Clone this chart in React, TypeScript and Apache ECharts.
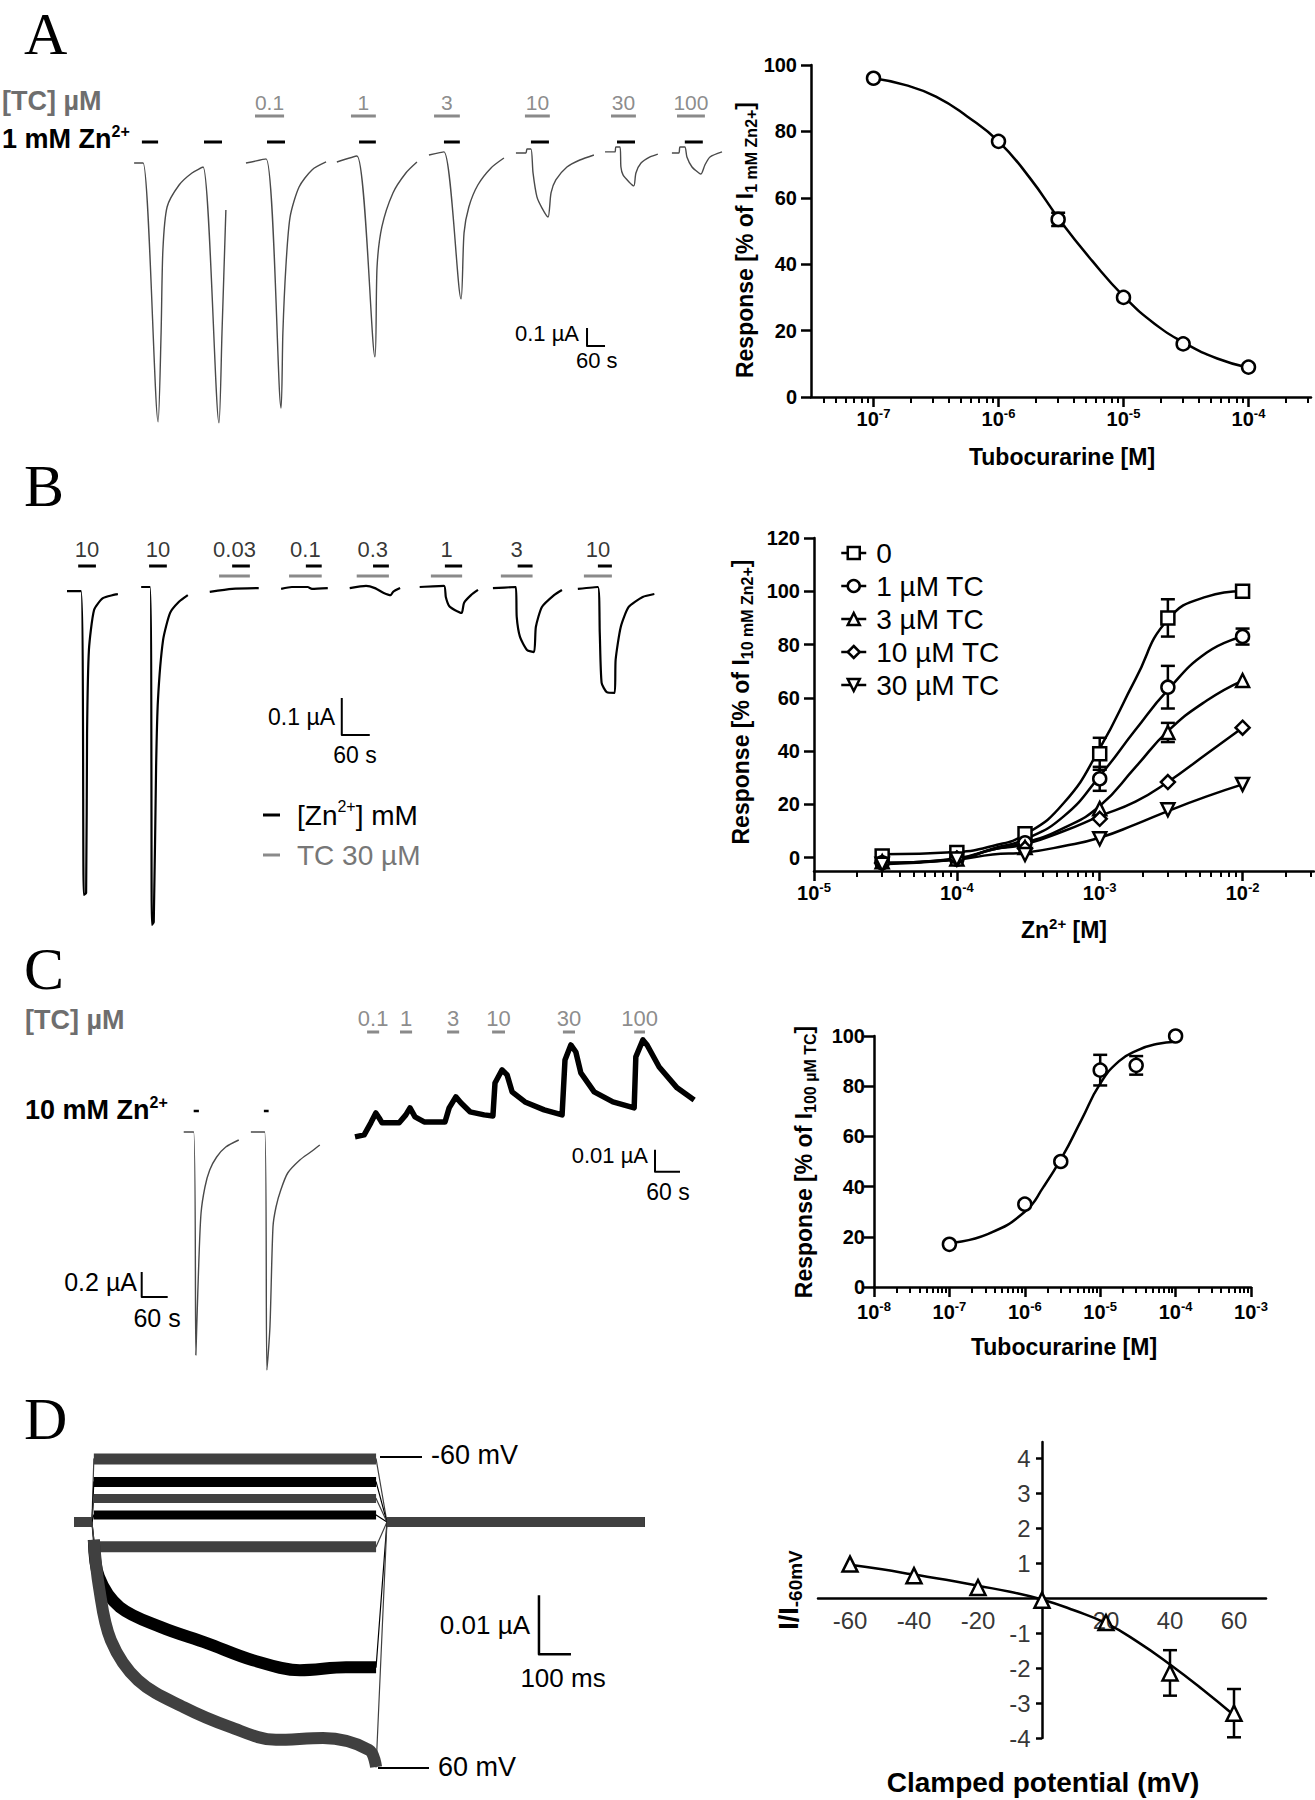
import React, { useEffect, useRef } from "react";
import * as echarts from "echarts";

const SANS = '"Liberation Sans", Arial, Helvetica, sans-serif';
const SERIF = '"Liberation Serif", "Times New Roman", Times, serif';
const GRAY_TXT = "#6e6e6e";
const GRAY_BAR = "#8a8a8a";

/* ===== Panel A, left: current trace (time s, current nA) ===== */
const A_TRACE_T = [47, 77, 127, 137, 143, 157, 197, 240, 277, 330, 340, 353, null,
  420, 487, 537, 543, 553, 567, 597, 640, 687, null,
  723, 790, 850, 857, 873, 910, 953, 990, null,
  1030, 1080, 1137, 1147, 1163, 1193, 1237, 1280, null,
  1320, 1353, 1357, 1370, 1377, 1390, 1407, 1427, 1437, 1453, 1490, 1533, 1580, null,
  1617, 1650, 1653, 1667, 1670, 1677, 1697, 1713, 1720, 1737, 1767, 1793, null,
  1840, 1863, 1867, 1883, 1890, 1907, 1930, 1937, 1950, 1967, 2007];
const A_TRACE_I = [-6, -6, -1444, -950, -489, -250, -128, -61, -28, -1450, -950, -267, null,
  -6, 17, -1367, -950, -583, -306, -139, -44, 0, null,
  0, 33, -1083, -583, -361, -172, -61, 0, null,
  39, 56, -761, -394, -250, -128, -33, 22, null,
  50, 50, 72, 72, -61, -194, -256, -306, -172, -100, -28, 11, 39, null,
  56, 56, 83, 83, -28, -72, -111, -133, -61, -6, 28, 44, null,
  50, 50, 83, 83, 28, -28, -61, -67, -17, 28, 56];
const A_ZN_ON = [73, 280, 490, 797, 1080, 1370, 1657, 1883];
const A_ZN_OFF = [127, 340, 550, 853, 1133, 1430, 1717, 1943];
const A_TC_LABELS = ["0.1", "1", "3", "10", "30", "100"];
const A_TC_ON = [450, 770, 1047, 1350, 1637, 1857];
const A_TC_OFF = [547, 853, 1133, 1433, 1720, 1950];

/* ===== Panel A, right: inhibition curve ===== */
const A_CONC = [1e-7, 1e-6, 3e-6, 1e-5, 3e-5, 1e-4];
const A_RESP = [96, 77, 53.5, 30, 16, 9];
const A_SEM = [0, 0, 2, 0, 0, 0];
const A_FIT_X = [1e-7, 1.78e-7, 3.16e-7, 5.62e-7, 1e-6, 1.78e-6, 3.16e-6, 5.62e-6, 1e-5, 1.78e-5, 3.16e-5, 5.62e-5, 1e-4];
const A_FIT_Y = [96, 94, 90.5, 84.5, 77, 66, 52.8, 41, 30.4, 22, 16, 11.6, 8.8];

/* ===== Panel B, left: current trace (time s, current nA) ===== */
const B_TRACE_T = [15, 45, 51, 56, 58, 62, 73, 92, 124, null,
  174, 193, 197, 201, 206, 210, 221, 236, 255, 274, null,
  321, 369, 426, null,
  474, 497, 531, 540, 574, null,
  621, 656, 675, 694, 709, 714, 729, null,
  771, 823, 827, 834, 846, 861, 866, 881, 896, null,
  928, 977, 979, 986, 1001, 1016, 1020, 1033, 1059, 1076, null,
  1110, 1153, 1157, 1161, 1172, 1189, 1191, 1202, 1219, 1249, 1274];
const B_TRACE_I = [-3, -3, -824, -819, -387, -162, -54, -22, -11, null,
  8, 8, -905, -897, -478, -297, -135, -62, -32, -14, null,
  -5, 3, 5, null,
  3, 8, 8, 3, 5, null,
  5, 11, 5, -8, -14, -5, 5, null,
  8, 11, -19, -43, -54, -62, -35, -14, 0, null,
  5, 8, -73, -127, -162, -168, -100, -46, -14, 0, null,
  3, 8, -116, -251, -276, -278, -189, -100, -46, -19, -11];
const B_ZN_LABELS = ["10", "10", "0.03", "0.1", "0.3", "1", "3", "10"];
const B_ZN_ON = [39, 191, 369, 527, 671, 825, 981, 1153];
const B_ZN_OFF = [77, 229, 407, 561, 705, 862, 1013, 1183];
const B_TC_ON = [341, 491, 636, 795, 945, 1123];
const B_TC_OFF = [407, 561, 705, 862, 1013, 1183];

/* ===== Panel B, right: Zn2+ concentration-response ===== */
const B_ZN = [3e-5, 1e-4, 3e-4, 1e-3, 3e-3, 1e-2];
const B_NAMES = ["0", "1 µM TC", "3 µM TC", "10 µM TC", "30 µM TC"];
const B_Y_0 = [0.6, 1.9, 9, 39, 90, 100];
const B_E_0 = [0, 0, 0, 6, 7, 0];
const B_Y_1 = [-1.9, -0.6, 5.6, 29.6, 64, 83];
const B_E_1 = [0, 0, 0, 4.5, 8, 3];
const B_Y_3 = [-1.5, -0.5, 3.8, 18.4, 47, 66.5];
const B_E_3 = [0, 0, 0, 0, 3.6, 0];
const B_Y_10 = [-2, -0.3, 3.4, 14.6, 28.4, 48.8];
const B_E_10 = [0, 0, 0, 0, 0, 0];
const B_Y_30 = [-2.5, -0.5, 1.2, 7.1, 18, 27.5];
const B_E_30 = [0, 0, 0, 0, 0, 0];
const B_FIT_X = [3e-5, 1e-4, 1.78e-4, 3e-4, 5.62e-4, 1e-3, 1.78e-3, 3e-3, 5.62e-3, 1e-2];
const B_FIT_0 = [1.25, 2.1, 4.4, 8.7, 20.6, 41, 67, 89.4, 98, 100];
const B_FIT_1 = [-2, -0.6, 3.4, 6.9, 15.6, 30.6, 48, 63, 77, 83];
const B_FIT_3 = [-2, -0.5, 3.1, 5.6, 11.2, 19.4, 34, 47.5, 59, 66.5];
const B_FIT_10 = [-2, -0.3, 3.1, 5, 10, 15.6, 21, 28.4, 39, 48.8];
const B_FIT_30 = [-2.5, -0.8, 1.2, 1.9, 4.4, 7.5, 12.5, 17.5, 23, 27.5];

/* ===== Panel C, left: Zn2+ currents (time s, current nA) ===== */
const C1_TRACE_T = [32, 55, 60, 62, 67, 72, 81, 92, 108, 129, 159, null,
  187, 219, 224, 231, 238, 245, 256, 272, 300, 325, 346];
const C1_TRACE_I = [0, 0, -1784, -1560, -1024, -648, -440, -304, -200, -120, -64, null,
  0, 0, -1904, -1560, -760, -600, -464, -328, -224, -160, -104];
const C1_ZN_ON = [55, 217];
const C1_ZN_OFF = [67, 228];
/* TC-evoked currents (time s, current nA) */
const C2_TRACE_T = [36, 58, 74, 86, 94, 101, 142, 158, 168, 180, 202, 252, 262, 278, 290, 312,
  346, 367, 372, 389, 401, 413, 444, 490, 533, 540, 554, 566, 578, 610, 655, 706, 710, 727,
  737, 766, 809, 850];
const C2_TRACE_I = [0, 0.9, 6.4, 10.9, 8.6, 6.4, 6.4, 10, 13.2, 9.1, 6.8, 6.8, 13.2, 18.2, 15.5, 11.4,
  10, 9.5, 24.5, 30.5, 28.2, 20.5, 15.9, 12.3, 10, 35, 41.8, 38.6, 29.1, 20.5, 15.9, 13.2, 36.4, 44.1,
  41.8, 31.8, 22.3, 16.8];
const C2_TC_LABELS = ["0.1", "1", "3", "10", "30", "100"];
const C2_TC_ON = [65, 144, 257, 365, 535, 706];
const C2_TC_OFF = [94, 173, 286, 396, 564, 732];

/* ===== Panel C, right ===== */
const C_CONC = [1e-7, 1e-6, 3e-6, 1e-5, 3e-5, 1e-4];
const C_RESP = [17, 33, 50, 86.4, 88.3, 100];
const C_SEM = [0, 0, 0, 6.1, 3.7, 0];
const C_FIT_X = [1e-7, 3.16e-7, 1e-6, 1.78e-6, 3.16e-6, 5.62e-6, 1e-5, 1.78e-5, 3.16e-5, 5.62e-5, 1e-4];
const C_FIT_Y = [17.5, 21, 30, 40, 52, 66.5, 81, 90, 94.4, 96.8, 97.7];

/* ===== Panel D, left: voltage-step currents (time ms, current nA) ===== */
const D_T_STEP = [-56, 0, 6, 888, 922, 1728];
const D_I_M60 = [0, 0, 10.7, 10.7, 0, 0];
const D_I_M40 = [0, 0, 6.8, 6.8, 0, 0];
const D_I_M20 = [0, 0, 4.0, 4.0, 0, 0];
const D_I_0 = [0, 0, 1.2, 1.2, 0, 0];
const D_I_P20 = [0, 0, -4.2, -4.2, 0, 0];
const D_T_P40 = [-56, 0, 6, 22, 87, 216, 359, 503, 650, 794, 888, 922, 1728];
const D_I_P40 = [0, 0, -3, -9.3, -14.4, -17.8, -20.5, -23.4, -25.1, -24.6, -24.6, 0, 0];
const D_T_P60 = [-56, 0, 6, 22, 59, 144, 288, 431, 575, 722, 866, 888, 922, 1728];
const D_I_P60 = [0, 0, -3, -11, -20, -26.8, -31.4, -34.7, -36.9, -36.6, -38.6, -41.5, 0, 0];
const D_PULSE_ON = 6;
const D_PULSE_END = 888;
const D_PULSE_OFF = 922;

/* ===== Panel D, right: I-V relation ===== */
const D_V = [-60, -40, -20, 0, 20, 40, 60];
const D_RATIO = [0.97, 0.64, 0.3, -0.06, -0.7, -2.14, -3.29];
const D_SEM = [0, 0, 0, 0, 0, 0.65, 0.69];
const D_FIT_V = [-60, -50, -40, -30, -20, -10, 0, 10, 20, 30, 40, 50, 60];
const D_FIT_I = [0.95, 0.82, 0.67, 0.52, 0.35, 0.18, -0.04, -0.35, -0.72, -1.26, -1.9, -2.6, -3.35];
const D_X_TICKS = [-60, -40, -20, 20, 40, 60];
const D_Y_TICKS = [-4, -3, -2, -1, 1, 2, 3, 4];

/* ---------------- helpers ---------------- */
type Num = number | null;
function pairs(T: Num[], Y: Num[]): any[] {
  return T.map((t, i) => (t === null || Y[i] === null ? "-" : [t, Y[i]]));
}
function appBars(on: number[], off: number[], level: number) {
  const out: any[] = [];
  on.forEach((s, i) => { out.push([s, level], [off[i], level], "-"); });
  return out;
}
function labelPts(labels: string[], on: number[], off: number[], level: number) {
  return labels.map((name, i) => ({ name, value: [(on[i] + off[i]) / 2, level] }));
}
function scaleBar(t: number, i: number, dt: number, di: number) {
  return [[t, i], [t, i - di], [t + dt, i - di]];
}
function errData(X: number[], Y: number[], E: number[]) {
  const out: number[][] = [];
  X.forEach((x, i) => { if (E[i] > 0) out.push([x, Y[i] - E[i], Y[i] + E[i]]); });
  return out;
}
function minorList(lo: number, hi: number) {
  const out: number[] = [];
  for (let e = Math.floor(lo); e < Math.ceil(hi); e++) {
    for (let k = 2; k <= 9; k++) {
      const v = k * Math.pow(10, e);
      const l = Math.log10(v);
      if (l > lo + 1e-9 && l < hi - 1e-9) out.push(v);
    }
  }
  return out;
}
function segment(T: number[], I: number[], from: number, to: number) {
  const out: any[] = [];
  T.forEach((t, i) => { if (t >= from && t <= to) out.push([t, I[i]]); });
  return out;
}

const AX = { color: "#000", width: 2.5 };
const TICK_RICH = {
  b: { fontFamily: SANS, fontWeight: "bold", fontSize: 20, color: "#000", lineHeight: 24 },
  s: { fontFamily: SANS, fontWeight: "bold", fontSize: 13, color: "#000", lineHeight: 14, verticalAlign: "top" },
};

function hiddenAxis(grid: number, min: number, max: number) {
  return { type: "value", gridIndex: grid, min, max, show: false };
}
function logAxes(grid: number, lo: number, hi: number, majors: number[], margin: number) {
  const min = Math.pow(10, lo);
  const max = Math.pow(10, hi);
  const main = {
    type: "log", logBase: 10, gridIndex: grid, min, max, position: "bottom",
    axisLine: { show: true, onZero: false, lineStyle: AX },
    axisTick: { show: true, customValues: majors, length: 10, lineStyle: AX },
    axisLabel: {
      show: true, customValues: majors, margin,
      formatter: (v: number) => {
        const e = Math.log10(v);
        const r = Math.round(e);
        if (Math.abs(e - r) > 1e-6) return "";
        return `{b|10}{s|${r}}`;
      },
      rich: TICK_RICH,
    },
    splitLine: { show: false },
  };
  const minor = {
    type: "log", logBase: 10, gridIndex: grid, min, max, position: "bottom",
    axisLine: { show: false, onZero: false },
    axisTick: { show: true, customValues: minorList(lo, hi), length: 6, lineStyle: { color: "#000", width: 2 } },
    axisLabel: { show: false },
    splitLine: { show: false },
  };
  return [main, minor];
}
function valueYAxis(grid: number, min: number, max: number, ticks: number[], margin: number) {
  return {
    type: "value", gridIndex: grid, min, max,
    axisLine: { show: true, lineStyle: AX },
    axisTick: { show: true, customValues: ticks, length: 10, lineStyle: AX },
    axisLabel: { show: true, customValues: ticks, margin, fontFamily: SANS, fontWeight: "bold", fontSize: 20, color: "#000" },
    splitLine: { show: false },
  };
}

function traceLine(xi: number, yi: number, data: any[], color: string, width: number, smooth: number | boolean = false) {
  return {
    type: "line", xAxisIndex: xi, yAxisIndex: yi, data, showSymbol: false, symbol: "none", smooth,
    connectNulls: false, silent: true, z: 2, lineStyle: { color, width, cap: "butt", join: "round" },
  };
}
function labelSeries(xi: number, yi: number, data: any[], color: string, size: number, position: any = "inside", distance = 5) {
  return {
    type: "scatter", xAxisIndex: xi, yAxisIndex: yi, data, symbolSize: 1, silent: true, z: 5,
    itemStyle: { color: "rgba(0,0,0,0)" },
    label: { show: true, position, distance, formatter: "{b}", fontFamily: SANS, fontSize: size, color, textBorderWidth: 0 },
  };
}
function errRender(capW: number) {
  return (params: any, api: any) => {
    const x = api.value(0);
    const pLo = api.coord([x, api.value(1)]);
    const pHi = api.coord([x, api.value(2)]);
    const style = { stroke: "#000", lineWidth: 2.5 };
    return {
      type: "group",
      children: [
        { type: "line", shape: { x1: pHi[0], y1: pHi[1], x2: pLo[0], y2: pLo[1] }, style },
        { type: "line", shape: { x1: pHi[0] - capW, y1: pHi[1], x2: pHi[0] + capW, y2: pHi[1] }, style },
        { type: "line", shape: { x1: pLo[0] - capW, y1: pLo[1], x2: pLo[0] + capW, y2: pLo[1] }, style },
      ],
    };
  };
}
function errSeries(xi: number, yi: number, data: number[][], capW = 7) {
  return { type: "custom", xAxisIndex: xi, yAxisIndex: yi, data, renderItem: errRender(capW), encode: { x: 0, y: [1, 2] }, z: 1, silent: true, clip: false };
}
function fitSeries(xi: number, yi: number, X: number[], Y: number[]) {
  return {
    type: "line", xAxisIndex: xi, yAxisIndex: yi, data: pairs(X, Y), smooth: 0.5,
    showSymbol: false, symbol: "none", silent: true, z: 2, lineStyle: { color: "#000", width: 2.5 },
  };
}
function pointSeries(xi: number, yi: number, name: string, X: number[], Y: number[], symbol: string, size: number, rotate = 0) {
  return {
    type: "line", name, xAxisIndex: xi, yAxisIndex: yi, data: pairs(X, Y), symbol, symbolSize: size,
    symbolRotate: rotate, showSymbol: true, silent: true, z: 3,
    lineStyle: { opacity: 0, width: 0 },
    itemStyle: { color: "#fff", borderColor: "#000", borderWidth: 2.5 },
  };
}

function gtext(x: number, y: number, text: string, o: any = {}) {
  const align = o.align || "left";
  const vAlign = o.vAlign || "middle";
  return {
    type: "text", x, y, rotation: o.rot || 0, silent: true, z: 50,
    style: {
      text, fontFamily: o.family || SANS, fontSize: o.size || 20, fontWeight: o.weight || "normal",
      fill: o.color || "#000", align, verticalAlign: vAlign, textAlign: align, textVerticalAlign: vAlign,
      rich: o.rich,
    },
  };
}
function gline(x1: number, y1: number, x2: number, y2: number, color = "#000", w = 2) {
  return { type: "line", silent: true, z: 50, shape: { x1, y1, x2, y2 }, style: { stroke: color, lineWidth: w } };
}
function richSub(base: number, sub: number, color = "#000", weight = "bold") {
  return {
    b: { fontFamily: SANS, fontWeight: weight, fontSize: base, fill: color, color, lineHeight: base + 5 },
    s: { fontFamily: SANS, fontWeight: weight, fontSize: sub, fill: color, color, lineHeight: sub, verticalAlign: "bottom" },
    p: { fontFamily: SANS, fontWeight: weight, fontSize: sub, fill: color, color, lineHeight: sub, verticalAlign: "top" },
  };
}

function buildOption() {
  const grid = [
    { left: 120, top: 90, width: 620, height: 350 },   // 0 A traces
    { left: 811, top: 65, width: 500, height: 332 },   // 1 A chart
    { left: 60, top: 540, width: 620, height: 400 },   // 2 B traces
    { left: 814, top: 538, width: 500, height: 333 },  // 3 B chart
    { left: 130, top: 1100, width: 210, height: 280 }, // 4 C1 traces
    { left: 340, top: 1010, width: 380, height: 190 }, // 5 C2 traces
    { left: 874, top: 1036, width: 377, height: 251 }, // 6 C chart
    { left: 74, top: 1440, width: 576, height: 340 },  // 7 D traces
    { left: 818, top: 1442, width: 448, height: 296 }, // 8 D chart
  ];
  const [aMain, aMinor] = logAxes(1, -7.5, -3.5, [1e-7, 1e-6, 1e-5, 1e-4], 10);
  const [bMain, bMinor] = logAxes(3, -5, -1.5, [1e-5, 1e-4, 1e-3, 1e-2], 10);
  const [cMain, cMinor] = logAxes(6, -8, -3, [1e-8, 1e-7, 1e-6, 1e-5, 1e-4, 1e-3], 13);
  const dX = {
    type: "value", gridIndex: 8, min: -70, max: 70,
    axisLine: { show: true, onZero: true, lineStyle: AX },
    axisTick: { show: false },
    axisLabel: { show: false },
    splitLine: { show: false },
  };
  const dY = {
    type: "value", gridIndex: 8, min: -4, max: 4.46,
    axisLine: { show: true, onZero: true, lineStyle: AX },
    axisTick: { show: true, customValues: D_Y_TICKS, length: 6, lineStyle: AX },
    axisLabel: { show: false },
    splitLine: { show: false },
  };
  const xAxis = [
    hiddenAxis(0, 0, 2067),      // 0
    aMain, aMinor,               // 1, 2
    hiddenAxis(2, 0, 1329),      // 3
    bMain, bMinor,               // 4, 5
    hiddenAxis(4, -92, 392.7),   // 6
    hiddenAxis(5, 0, 912),       // 7
    cMain, cMinor,               // 8, 9
    hiddenAxis(7, -56, 1744),    // 10
    dX,                          // 11
  ];
  const yAxis = [
    hiddenAxis(0, -1545, 400),   // 0
    valueYAxis(1, 0, 100, [0, 20, 40, 60, 80, 100], 14), // 1
    hiddenAxis(2, -946, 135),    // 2
    valueYAxis(3, -5, 120, [0, 20, 40, 60, 80, 100, 120], 14), // 3
    hiddenAxis(4, -1984, 256),   // 4
    hiddenAxis(5, -28.7, 57.7),  // 5
    valueYAxis(6, 0, 100, [0, 20, 40, 60, 80, 100], 9), // 6
    hiddenAxis(7, -43.7, 13.9),  // 7
    dY,                          // 8
  ];

  const dTraces = [
    { T: D_T_STEP, I: D_I_M60, c: "#404040", w: 11, sm: false },
    { T: D_T_STEP, I: D_I_M40, c: "#000", w: 10, sm: false },
    { T: D_T_STEP, I: D_I_M20, c: "#404040", w: 9, sm: false },
    { T: D_T_STEP, I: D_I_0, c: "#000", w: 9, sm: false },
    { T: D_T_STEP, I: D_I_P20, c: "#404040", w: 11, sm: false },
    { T: D_T_P40, I: D_I_P40, c: "#000", w: 12, sm: 0.35 },
    { T: D_T_P60, I: D_I_P60, c: "#404040", w: 12, sm: 0.35 },
  ];
  const dSeries: any[] = [];
  dTraces.forEach((d) => {
    dSeries.push(traceLine(10, 7, pairs(d.T, d.I), d.c, 1.2));
  });
  dTraces.forEach((d) => {
    dSeries.push(traceLine(10, 7, [...segment(d.T, d.I, -1e9, 0), "-", ...segment(d.T, d.I, D_PULSE_OFF, 1e9)], d.c, 10));
    dSeries.push(traceLine(10, 7, segment(d.T, d.I, D_PULSE_ON, D_PULSE_END), d.c, d.w, d.sm));
  });

  const series: any[] = [
    // ---- A traces
    traceLine(0, 0, pairs(A_TRACE_T, A_TRACE_I), "#4a4a4a", 1.4, 0.25),
    traceLine(0, 0, appBars(A_ZN_ON, A_ZN_OFF, 111), "#000", 3),
    traceLine(0, 0, appBars(A_TC_ON, A_TC_OFF, 256), GRAY_BAR, 3),
    labelSeries(0, 0, labelPts(A_TC_LABELS, A_TC_ON, A_TC_OFF, 328), GRAY_TXT, 21),
    traceLine(0, 0, scaleBar(1557, -922, 60, 100), "#000", 2),
    // ---- A chart
    errSeries(1, 1, errData(A_CONC, A_RESP, A_SEM)),
    fitSeries(1, 1, A_FIT_X, A_FIT_Y),
    pointSeries(1, 1, "A data", A_CONC, A_RESP, "circle", 13),
    // ---- B traces
    traceLine(3, 2, pairs(B_TRACE_T, B_TRACE_I), "#000", 2.2, 0.2),
    traceLine(3, 2, appBars(B_ZN_ON, B_ZN_OFF, 65), "#000", 3),
    traceLine(3, 2, appBars(B_TC_ON, B_TC_OFF, 38), GRAY_BAR, 3),
    labelSeries(3, 2, labelPts(B_ZN_LABELS,
      [B_ZN_ON[0], B_ZN_ON[1], ...B_TC_ON], B_ZN_OFF, 108), "#000", 22),
    traceLine(3, 2, scaleBar(604, -292, 60, 100), "#000", 2),
    // ---- B chart
    errSeries(4, 3, errData(B_ZN, B_Y_0, B_E_0)),
    errSeries(4, 3, errData(B_ZN, B_Y_1, B_E_1)),
    errSeries(4, 3, errData(B_ZN, B_Y_3, B_E_3)),
    errSeries(4, 3, errData(B_ZN, B_Y_10, B_E_10)),
    errSeries(4, 3, errData(B_ZN, B_Y_30, B_E_30)),
    fitSeries(4, 3, B_FIT_X, B_FIT_0),
    fitSeries(4, 3, B_FIT_X, B_FIT_1),
    fitSeries(4, 3, B_FIT_X, B_FIT_3),
    fitSeries(4, 3, B_FIT_X, B_FIT_10),
    fitSeries(4, 3, B_FIT_X, B_FIT_30),
    pointSeries(4, 3, B_NAMES[0], B_ZN, B_Y_0, "rect", 13),
    pointSeries(4, 3, B_NAMES[1], B_ZN, B_Y_1, "circle", 13),
    pointSeries(4, 3, B_NAMES[2], B_ZN, B_Y_3, "triangle", 13),
    pointSeries(4, 3, B_NAMES[3], B_ZN, B_Y_10, "diamond", 14),
    pointSeries(4, 3, B_NAMES[4], B_ZN, B_Y_30, "triangle", 13, 180),
    // ---- C traces
    traceLine(6, 4, pairs(C1_TRACE_T, C1_TRACE_I), "#4a4a4a", 1.4, 0.25),
    traceLine(6, 4, appBars(C1_ZN_ON, C1_ZN_OFF, 168), "#000", 2.5),
    traceLine(6, 4, scaleBar(-65, -1120, 60, 200), "#000", 2),
    traceLine(7, 5, pairs(C2_TRACE_T, C2_TRACE_I), "#000", 5.5),
    traceLine(7, 5, appBars(C2_TC_ON, C2_TC_OFF, 47.7), GRAY_BAR, 3),
    labelSeries(7, 5, labelPts(C2_TC_LABELS, C2_TC_ON, C2_TC_OFF, 54), GRAY_TXT, 22),
    traceLine(7, 5, scaleBar(756, -5.9, 60, 10), "#000", 2),
    // ---- C chart
    errSeries(8, 6, errData(C_CONC, C_RESP, C_SEM)),
    fitSeries(8, 6, C_FIT_X, C_FIT_Y),
    pointSeries(8, 6, "C data", C_CONC, C_RESP, "circle", 13),
    // ---- D traces
    ...dSeries,
    traceLine(10, 7, scaleBar(1397, -12.4, 100, 10), "#000", 2.5),
    // ---- D chart
    errSeries(11, 8, errData(D_V, D_RATIO, D_SEM)),
    fitSeries(11, 8, D_FIT_V, D_FIT_I),
    pointSeries(11, 8, "D data", D_V, D_RATIO, "triangle", 15),
    labelSeries(11, 8, D_X_TICKS.map((v) => ({ name: String(v), value: [v, 0] })), "#000", 24, "bottom", 10),
    labelSeries(11, 8, D_Y_TICKS.map((v) => ({ name: String(v), value: [0, v] })), "#000", 24, "left", 11),
  ];

  const R23 = richSub(23, 16);
  const elements: any[] = [
    // panel letters
    gtext(24, 34, "A", { family: SERIF, size: 60 }),
    gtext(24, 486, "B", { family: SERIF, size: 60 }),
    gtext(24, 969, "C", { family: SERIF, size: 60 }),
    gtext(24, 1419, "D", { family: SERIF, size: 60 }),
    // A left labels
    gtext(2, 101, "[TC] µM", { size: 27, weight: "bold", color: GRAY_TXT }),
    gtext(2, 139, "{b|1 mM Zn}{p|2+}", { rich: richSub(27, 16) }),
    gtext(579, 333, "0.1 µA", { size: 22, align: "right" }),
    gtext(576, 360, "60 s", { size: 22 }),
    // A right titles
    gtext(745, 240, "{b|Response [% of I}{s|1 mM Zn2+}{b|]}", { rot: Math.PI / 2, align: "center", rich: R23 }),
    gtext(1062, 457, "Tubocurarine [M]", { size: 23, weight: "bold", align: "center" }),
    // B left labels
    gtext(335, 717, "0.1 µA", { size: 23, align: "right" }),
    gtext(355, 755, "60 s", { size: 23, align: "center" }),
    gline(263, 815, 280, 815, "#000", 3),
    gtext(297, 815, "{b|[Zn}{p|2+}{b|] mM}", { rich: richSub(28, 16, "#000", "normal") }),
    gline(263, 855, 280, 855, GRAY_BAR, 3),
    gtext(297, 855, "TC 30 µM", { size: 28, color: "#777" }),
    // B right titles
    gtext(741, 702, "{b|Response [% of I}{s|10 mM Zn2+}{b|]}", { rot: Math.PI / 2, align: "center", rich: R23 }),
    gtext(1064, 930, "{b|Zn}{p|2+}{b| [M]}", { align: "center", rich: richSub(23, 15) }),
    // C left labels
    gtext(25, 1020, "[TC] µM", { size: 27, weight: "bold", color: GRAY_TXT }),
    gtext(25, 1110, "{b|10 mM Zn}{p|2+}", { rich: richSub(27, 16) }),
    gtext(137, 1282, "0.2 µA", { size: 25, align: "right" }),
    gtext(157, 1318, "60 s", { size: 25, align: "center" }),
    gtext(648, 1155, "0.01 µA", { size: 22, align: "right" }),
    gtext(668, 1192, "60 s", { size: 23, align: "center" }),
    // C right titles
    gtext(804, 1162, "{b|Response [% of I}{s|100 µM TC}{b|]}", { rot: Math.PI / 2, align: "center", rich: R23 }),
    gtext(1064, 1347, "Tubocurarine [M]", { size: 23, weight: "bold", align: "center" }),
    // D left labels
    gline(380, 1457, 422, 1457, "#000", 2),
    gtext(431, 1455, "-60 mV", { size: 27 }),
    gline(378, 1768, 429, 1768, "#000", 2),
    gtext(438, 1767, "60 mV", { size: 27 }),
    gtext(530, 1625, "0.01 µA", { size: 26, align: "right" }),
    gtext(563, 1678, "100 ms", { size: 26, align: "center" }),
    // D right titles
    gtext(789, 1590, "{b|I/I}{s|-60mV}", { rot: Math.PI / 2, align: "center", rich: richSub(27, 19) }),
    gtext(1043, 1782, "Clamped potential (mV)", { size: 28, weight: "bold", align: "center" }),
  ];

  return {
    animation: false,
    backgroundColor: "#fff",
    grid,
    xAxis,
    yAxis,
    legend: {
      data: B_NAMES, left: 835, top: 534, orient: "vertical", itemGap: 5, itemWidth: 25, itemHeight: 15,
      selectedMode: false,
      textStyle: { fontSize: 28, fontFamily: SANS, color: "#000", padding: [0, 0, 0, 5] },
      lineStyle: { color: "#000", width: 2.5, opacity: 1 },
      itemStyle: { color: "#fff", borderColor: "#000", borderWidth: 2.5 },
    },
    series,
    graphic: { elements },
  };
}

export default function App() {
  const ref = useRef<HTMLDivElement>(null);
  useEffect(() => {
    document.body.style.margin = "0";
    const chart = echarts.init(ref.current as HTMLDivElement, null, { renderer: "svg", width: 1315, height: 1800 });
    chart.setOption(buildOption() as any);
    return () => chart.dispose();
  }, []);
  return <div ref={ref} style={{ width: 1315, height: 1800, background: "#fff" }} />;
}
